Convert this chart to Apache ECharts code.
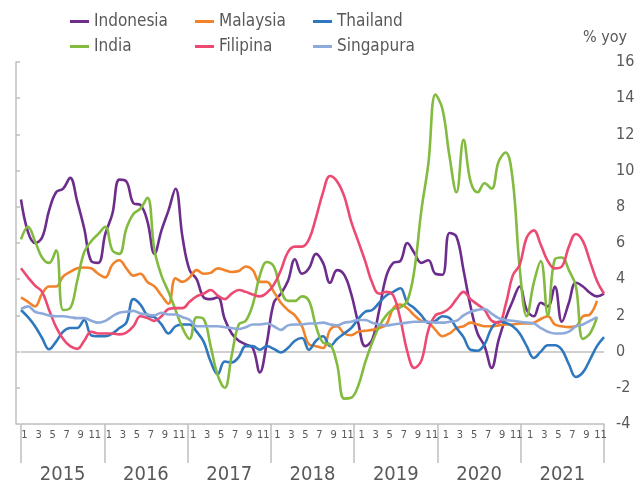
<!DOCTYPE html>
<html>
<head>
<meta charset="utf-8">
<script src="https://cdn.jsdelivr.net/npm/echarts@6/dist/echarts.min.js"></script>
<style>
  html, body { margin: 0; padding: 0; background: #fff; }
  #chart { width: 634px; height: 484px; }
</style>
</head>
<body>
<div id="chart"></div>
<script>
// tick labels
const years = ['2015', '2016', '2017', '2018', '2019', '2020', '2021'];
const months = ['1', '2', '3', '4', '5', '6', '7', '8', '9', '10', '11', '12'];

// % yoy, Jan 2015 .. Dec 2021
const indonesia = [
  8.4, 6.6, 6.0, 6.3, 7.8, 8.8, 9.0, 9.6, 8.3, 6.8, 5.0, 4.9,
  6.5, 7.6, 9.5, 9.4, 8.2, 8.1, 7.2, 5.4, 6.7, 7.8, 9.0, 6.3,
  4.5, 4.0, 3.0, 2.9, 3.0, 1.8, 1.0, 0.6, 0.4, 0.2, -1.15, 0.5,
  2.7, 3.2, 3.9, 5.1, 4.3, 4.6, 5.4, 4.9, 3.8, 4.5, 4.25, 3.2,
  1.6, 0.3, 0.65, 2.3, 4.15, 4.9, 5.0, 6.0, 5.45, 4.9, 5.05, 4.3,
  4.25, 6.55, 6.35, 4.5, 2.5, 1.0, 0.3, -0.9, 0.65, 1.85, 2.8, 3.6,
  2.3, 1.95, 2.7, 2.5, 3.6, 1.65, 2.7, 3.8, 3.6, 3.25, 3.05, 3.2
];
const malaysia = [
  3.0, 2.75, 2.5, 3.2, 3.6, 3.6, 4.15, 4.4, 4.6, 4.65, 4.6, 4.3,
  4.1, 4.8, 5.05, 4.6, 4.2, 4.3, 3.85, 3.6, 3.1, 2.65, 4.05, 3.85,
  4.1, 4.5, 4.3, 4.35, 4.6, 4.5, 4.4, 4.45, 4.7, 4.5, 3.85, 3.85,
  3.3, 2.7, 2.3, 2.0, 1.4, 0.4, 0.3, 0.2, 1.2, 1.4, 1.0, 0.9,
  1.1, 1.15, 1.2, 1.3, 1.5, 2.4, 2.6, 2.4, 2.0, 1.7, 1.6, 1.2,
  0.85, 1.0, 1.3, 1.4, 1.6, 1.5, 1.4, 1.4, 1.45, 1.5, 1.5, 1.55,
  1.55, 1.6, 1.8, 1.95, 1.5, 1.4, 1.35, 1.4, 1.95, 2.05, 2.8, null
];
const thailand = [
  2.3, 1.9, 1.4, 0.75, 0.13, 0.55, 1.1, 1.3, 1.3, 1.75, 0.9, 0.85,
  0.85, 1.0, 1.3, 1.6, 2.9, 2.6, 2.0, 1.9, 1.5, 1.0, 1.4, 1.5,
  1.5, 1.1, 0.55, -0.55, -1.25, -0.55, -0.6, -0.3, 0.3, 0.3, 0.1, 0.3,
  0.15, -0.05, 0.2, 0.6, 0.75, 0.1, 0.6, 0.85, 0.3, 0.7, 1.0, 1.3,
  1.8, 2.2, 2.3, 2.7, 3.1, 3.3, 3.5, 2.7, 2.4, 2.0, 1.6, 1.7,
  1.95, 1.85, 1.3, 0.8, 0.1, 0.05, 0.4, 1.3, 1.65, 1.6, 1.4, 1.0,
  0.3, -0.35, 0.0, 0.35, 0.35, 0.1, -0.7, -1.4, -1.15, -0.45, 0.3, 0.8
];
const india = [
  6.2, 6.9, 6.1, 5.2, 4.9, 5.6, 2.3, 2.4, 3.9, 5.5, 6.1, 6.5,
  6.9, 5.6, 5.4, 6.8, 7.6, 7.9, 8.5, 5.6, 4.2, 3.3, 2.3, 1.3,
  0.7, 1.9, 1.8, 0.3, -1.3, -2.0, -0.2, 1.5, 1.7, 2.6, 4.2, 4.95,
  4.7, 3.4, 2.8, 2.8, 3.05, 2.8, 1.4, 0.5, 0.4, -0.7, -2.6, -2.55,
  -1.9, -0.6, 0.5, 1.4, 2.0, 2.35, 2.45, 2.8, 4.5, 7.8, 10.4, 14.2,
  13.4, 10.8, 8.8, 11.7, 9.4, 8.8, 9.3, 9.0, 10.5, 11.0, 9.5, 4.6,
  1.95, 3.8, 5.0, 2.0, 5.1, 5.2, 4.5, 3.6, 0.7, 1.0, 1.9, null
];
const filipina = [
  4.6, 4.1, 3.65, 3.3, 2.3, 1.35, 0.7, 0.3, 0.15, 0.6, 1.1, 1.0,
  1.0, 1.0, 0.95, 1.05, 1.4, 1.95, 1.85, 1.7, 1.95, 2.35, 2.4, 2.4,
  2.75, 3.05, 3.2, 3.4, 3.1, 2.9, 3.2, 3.4, 3.3, 3.15, 3.05, 3.25,
  3.7, 4.5, 5.5, 5.8, 5.8, 6.2, 7.4, 8.8, 9.7, 9.4, 8.6, 7.2,
  6.1, 5.0, 3.8, 3.2, 3.3, 3.1, 1.8, 0.0, -0.9, -0.5, 1.2, 2.0,
  2.15, 2.4, 2.9, 3.3, 2.9, 2.6, 2.3, 1.7, 1.6, 2.6, 4.2, 4.8,
  6.3, 6.7, 5.9, 5.0, 4.6, 4.7, 5.8, 6.5, 6.1, 5.0, 3.9, 3.2
];
const singapura = [
  2.35, 2.5, 2.2, 2.1, 2.0, 1.95, 1.95, 1.9, 1.85, 1.85, 1.7, 1.6,
  1.7, 1.95, 2.15, 2.2, 2.25, 2.1, 2.05, 2.0, 2.15, 2.05, 2.05, 1.9,
  1.75, 1.4, 1.4, 1.4, 1.4, 1.35, 1.3, 1.25, 1.35, 1.5, 1.5, 1.55,
  1.4, 1.2, 1.45, 1.5, 1.5, 1.55, 1.55, 1.6, 1.5, 1.45, 1.6, 1.65,
  1.75, 1.75, 1.6, 1.5, 1.45, 1.5, 1.55, 1.6, 1.65, 1.65, 1.65, 1.6,
  1.6, 1.65, 1.7, 2.0, 2.2, 2.3, 2.35, 2.1, 1.85, 1.75, 1.7, 1.65,
  1.6, 1.55, 1.3, 1.1, 1.0, 1.0, 1.1, 1.4, 1.5, 1.7, 1.9, null
];

const FONT = "'Liberation Sans Narrow', 'DejaVu Sans Condensed', 'Roboto Condensed', Roboto, sans-serif";
const TEXT = '#595959';
const AXIS = '#bfbfbf';
const NONE = 'rgba(0,0,0,0)';

const periods = [];
years.forEach(y => months.forEach(m => periods.push(y + '-' + m)));

const seriesDefs = [
  { name: 'Indonesia', data: indonesia, color: '#6c2d8c' },
  { name: 'Malaysia', data: malaysia, color: '#f0832b' },
  { name: 'Thailand', data: thailand, color: '#2f78bd' },
  { name: 'India', data: india, color: '#82bb3f' },
  { name: 'Filipina', data: filipina, color: '#ec4a72' },
  { name: 'Singapura', data: singapura, color: '#8eaadb' }
];

const legendPos = [[70, 13], [195, 13], [313, 13], [70, 38], [195, 38], [313, 38]];

// only the split line at 0 is visible (ticks run -4, -2, 0, ...)
const splitColors = [NONE, NONE, AXIS, NONE, NONE, NONE, NONE, NONE, NONE, NONE, NONE];

const chart = echarts.init(document.getElementById('chart'));

chart.setOption({
  animation: false,
  textStyle: { fontFamily: FONT },
  title: {
    text: '% yoy',
    right: 2,
    top: 25,
    textStyle: { fontSize: 16, fontWeight: 'normal', color: TEXT, fontFamily: FONT }
  },
  legend: seriesDefs.map((s, i) => ({
    data: [s.name],
    left: legendPos[i][0],
    top: legendPos[i][1],
    padding: 0,
    icon: 'rect',
    itemWidth: 19,
    itemHeight: 3,
    selectedMode: false,
    textStyle: { fontSize: 17, color: TEXT, fontFamily: FONT }
  })),
  grid: { left: 21, right: 30, top: 62, bottom: 60, outerBoundsMode: 'none' },
  xAxis: [
    {
      // months along the bottom
      type: 'category',
      data: periods,
      boundaryGap: false,
      axisLine: { onZero: false, lineStyle: { color: AXIS, width: 1.5 } },
      axisTick: { show: false },
      axisLabel: {
        interval: 1,
        margin: 6,
        fontSize: 11,
        color: TEXT,
        padding: [0, 0, 0, 7],
        formatter: v => v.split('-')[1]
      },
      splitLine: { show: false }
    },
    {
      // year groups with separators
      type: 'category',
      data: years,
      position: 'bottom',
      boundaryGap: true,
      axisLine: { show: false, onZero: false },
      axisTick: { show: true, interval: 0, length: 39, lineStyle: { color: AXIS, width: 1.5 } },
      axisLabel: { interval: 0, margin: 41, fontSize: 20, color: TEXT },
      splitLine: { show: false }
    }
  ],
  yAxis: [
    {
      type: 'value',
      position: 'right',
      min: -4,
      max: 16,
      interval: 2,
      axisLine: { show: false },
      axisTick: { show: false },
      splitLine: { show: true, lineStyle: { color: splitColors, width: 1.5 } },
      axisLabel: { margin: 12, align: 'left', fontSize: 16, color: TEXT }
    },
    {
      type: 'value',
      position: 'left',
      offset: 5,
      min: -4,
      max: 16,
      interval: 2,
      axisLine: { show: true, onZero: false, lineStyle: { color: AXIS, width: 1.5 } },
      axisTick: { show: true, inside: true, length: 4, lineStyle: { color: AXIS, width: 1.5 } },
      axisLabel: { show: false },
      splitLine: { show: false }
    }
  ],
  series: seriesDefs.map(s => ({
    name: s.name,
    type: 'line',
    data: s.data,
    xAxisIndex: 0,
    yAxisIndex: 0,
    smooth: 0.4,
    showSymbol: false,
    connectNulls: false,
    color: s.color,
    lineStyle: { width: 2.6, color: s.color }
  }))
});
</script>
</body>
</html>
